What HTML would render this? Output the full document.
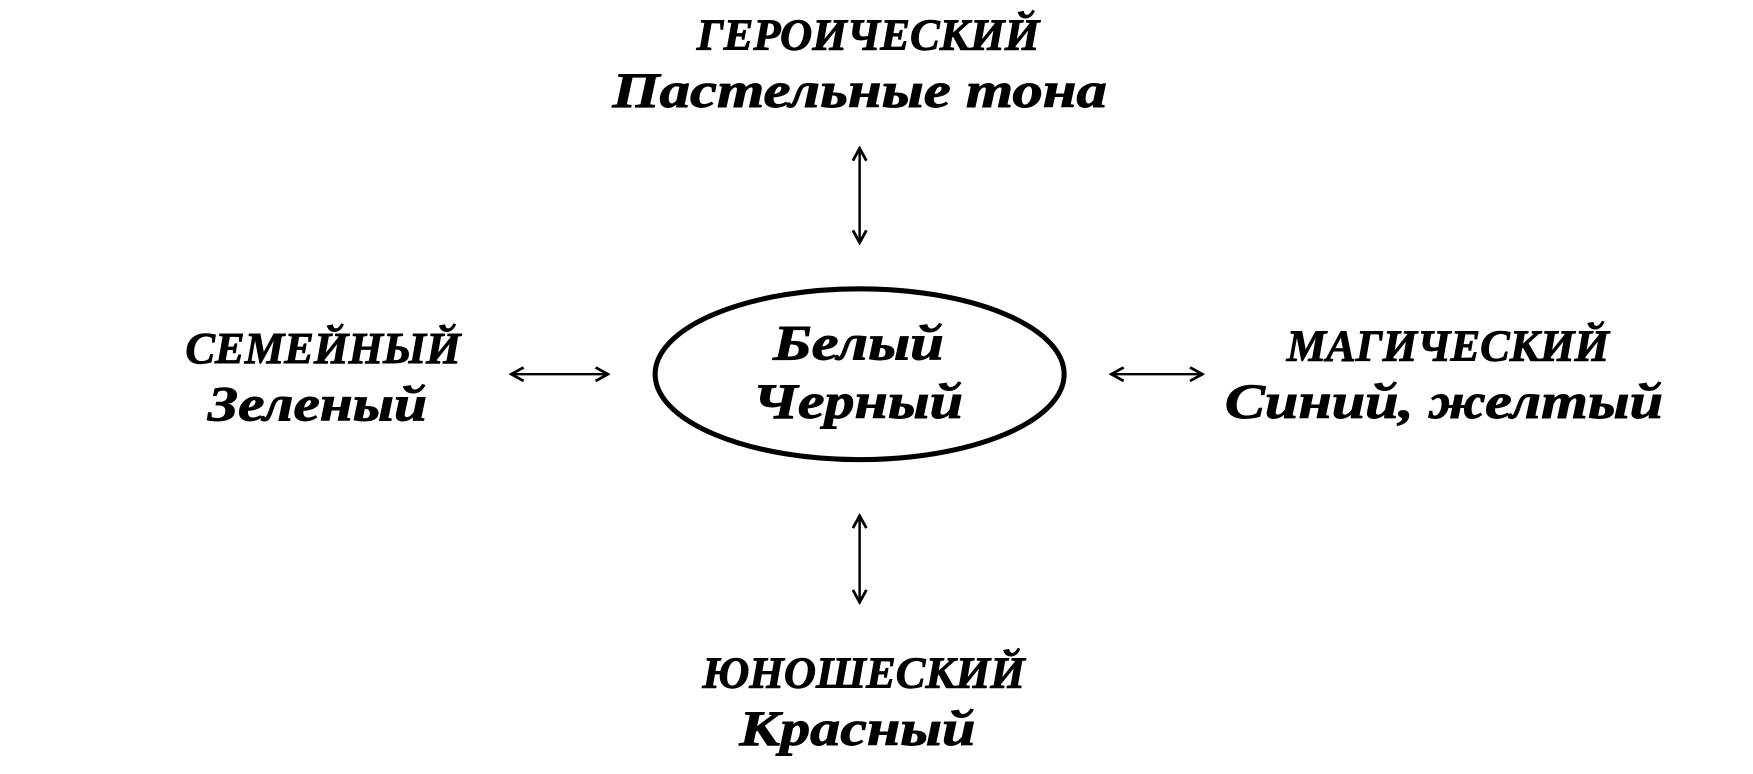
<!DOCTYPE html>
<html><head><meta charset="utf-8"><style>html,body{margin:0;padding:0;background:#fff}svg{display:block}</style></head>
<body>
<svg width="1753" height="774" viewBox="0 0 1753 774" xmlns="http://www.w3.org/2000/svg">
<defs>
<marker id="a" viewBox="0 0 14 14" refX="12" refY="7" markerWidth="14" markerHeight="14" markerUnits="userSpaceOnUse" orient="auto-start-reverse">
<path d="M1,1 L12,7 L1,13" fill="none" stroke="#000" stroke-width="2.5"/>
</marker>
</defs>
<g transform="scale(1.1237)">
<g font-family="Liberation Serif, serif" font-weight="bold" font-style="italic" font-size="40" fill="#000" stroke="#000" stroke-width="0.8" text-anchor="start">
<text x="620" y="44" textLength="305" lengthAdjust="spacingAndGlyphs">ГЕРОИЧЕСКИЙ</text>
<text x="545" y="95" textLength="440" lengthAdjust="spacingAndGlyphs" font-size="44">Пастельные тона</text>
<text x="165" y="323" textLength="245" lengthAdjust="spacingAndGlyphs">СЕМЕЙНЫЙ</text>
<text x="185" y="374" textLength="195" lengthAdjust="spacingAndGlyphs" font-size="44">Зеленый</text>
<text x="688" y="320" textLength="152" lengthAdjust="spacingAndGlyphs" font-size="44">Белый</text>
<text x="670" y="372" textLength="187" lengthAdjust="spacingAndGlyphs" font-size="44">Черный</text>
<text x="1145" y="321" textLength="287" lengthAdjust="spacingAndGlyphs">МАГИЧЕСКИЙ</text>
<text x="1090" y="372" textLength="390" lengthAdjust="spacingAndGlyphs" font-size="44">Синий, желтый</text>
<text x="625" y="612" textLength="287" lengthAdjust="spacingAndGlyphs">ЮНОШЕСКИЙ</text>
<text x="658" y="663" textLength="210" lengthAdjust="spacingAndGlyphs" font-size="44">Красный</text>
</g>
<ellipse cx="765" cy="333" rx="182" ry="76" fill="none" stroke="#000" stroke-width="4.5"/>
<g stroke="#000" stroke-width="2.2" fill="none">
<line x1="765" y1="132" x2="765" y2="216" marker-start="url(#a)" marker-end="url(#a)"/>
<line x1="765" y1="459" x2="765" y2="536" marker-start="url(#a)" marker-end="url(#a)"/>
<line x1="455" y1="333" x2="541" y2="333" marker-start="url(#a)" marker-end="url(#a)"/>
<line x1="989" y1="333" x2="1070" y2="333" marker-start="url(#a)" marker-end="url(#a)"/>
</g>
</g>
</svg>
</body></html>
